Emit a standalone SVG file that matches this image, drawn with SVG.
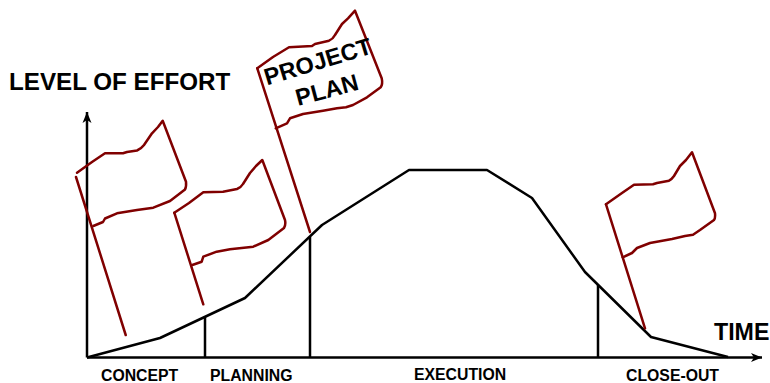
<svg xmlns="http://www.w3.org/2000/svg" width="770" height="383" viewBox="0 0 770 383">
<style>
.ax{fill:none;stroke:#000;stroke-width:2.5}
.cv{fill:none;stroke:#000;stroke-width:2.5;stroke-linejoin:round}
.fl{fill:none;stroke:#800000;stroke-width:2.5;stroke-linejoin:round;stroke-linecap:round}
text{font-family:"Liberation Sans",Arial,sans-serif;font-weight:bold;fill:#000}
.big{font-size:24.2px}.tm{font-size:23.2px}.sm{font-size:15.8px}.fg{font-size:23.5px}
</style>
<defs>
<marker id="ah" markerUnits="userSpaceOnUse" markerWidth="12" markerHeight="10" refX="11" refY="5" orient="auto"><path d="M0,0.5L11,5L0,9.5L3,5Z" fill="#000"/></marker>
</defs>
<g id="connectors">
<path class="ax" d="M87,357.500V112" marker-end="url(#ah)"/>
<path class="ax" d="M87,357.500H762" marker-end="url(#ah)"/>
<path class="cv" d="M87,357.500L160,338L245,298L322,225L409,170L487,170L532,198L585,272L651,337L728,357"/>
<path class="ax" d="M205,317V357M310,237V357M598,285V357"/>
</g>
<g id="flag-concept">
<path class="fl" d="M76,177L125.700,335"/>
<path class="fl" d="M77,172.700L92,162L105,153.300L123,153.300L127,152L137,150.500Q141,149 144,145L152,133.300L158,127L162.700,120.700L186,181.700Q186.500,187 185,189.500L170,201L153.300,207.700L137,210L117,213.300L105,218.500L103,222L93.300,226"/>
</g>
<g id="flag-planning">
<path class="fl" d="M174.300,212.700L189,203L203.300,192.300L223,191.700L237,189Q241,187.500 243,184L250,173L256,166L262.300,160L285,220Q286,225 284,228L268.300,240L253.300,246.700L230,249.300L216.700,251.700L203.300,256.700L201.700,261.700L192.300,265"/>
<path class="fl" d="M174.300,212.700L203.300,304.300"/>
</g>
<g id="flag-project-plan">
<path class="fl" d="M257.300,68.300L310,232"/>
<path class="fl" d="M257.300,68.300L273,57L289,47.300L312,46L315,44L329,40.700Q333,39 335,35L342,24L348,18.300L355,10.700L381.700,78.300Q383,84 380.700,87.300L367,97.300L353,105L346,107.300L337,108.300L323,110.700L303,114L290,118.300L287,123.300L275.700,128.300"/>
<text class="fg" transform="translate(267,85.500) rotate(-17)">PROJECT</text>
<text class="fg" transform="translate(298,106) rotate(-15)">PLAN</text>
</g>
<g id="flag-close-out">
<path class="fl" d="M606,204.300L645,328.300"/>
<path class="fl" d="M606,204.300L622,193L634,184.700L653,184.300L657,183L669,180.700Q672,179 674,176L680,166L686,160L692,152.300L715,213.300Q715.500,218 714,220L700,230L693,234.700L685,236L672,239L650,243L637,248L632,253L622.700,257.300"/>
</g>
<g id="labels">
<text class="big" x="9" y="90">LEVEL OF EFFORT</text>
<text class="tm" x="714" y="340">TIME</text>
<text class="sm" x="101" y="381">CONCEPT</text>
<text class="sm" x="210" y="381">PLANNING</text>
<text class="sm" x="414" y="380">EXECUTION</text>
<text class="sm" x="626" y="381">CLOSE-OUT</text>
</g>
</svg>
